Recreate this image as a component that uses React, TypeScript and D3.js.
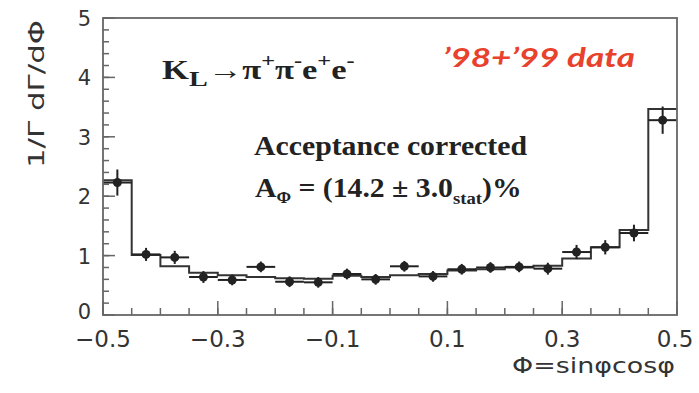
import React from "react";
import * as d3 from "d3";

// Bin edges of the Φ distribution (20 bins of width 0.05)
const binEdgesLo = d3.range(20).map((i) => -0.5 + i * 0.05);
const binWidth = 0.05;

// Acceptance-corrected data points and their statistical errors
const dataValues = [2.23, 1.02, 0.97, 0.64, 0.59, 0.81, 0.56, 0.55, 0.69, 0.6, 0.82, 0.65, 0.77, 0.8, 0.81, 0.78, 1.06, 1.14, 1.38, 3.28];
const dataErrors = [0.22, 0.11, 0.11, 0.1, 0.09, 0.09, 0.09, 0.09, 0.09, 0.09, 0.09, 0.09, 0.09, 0.09, 0.09, 0.1, 0.12, 0.12, 0.14, 0.23];

// Monte Carlo prediction drawn as a step histogram
const mcValues = [2.27, 1.01, 0.82, 0.71, 0.67, 0.64, 0.62, 0.61, 0.66, 0.64, 0.67, 0.69, 0.75, 0.77, 0.8, 0.83, 0.95, 1.14, 1.43, 3.47];

const xTickLabels = [-0.5, -0.3, -0.1, 0.1, 0.3, 0.5];
const yTickLabels = [0, 1, 2, 3, 4, 5];

const W = 699;
const H = 393;
const left = 103;
const right = 677;
const top = 18;
const bottom = 315;

const serif = "'Liberation Serif', 'Times New Roman', serif";
const sans = "'DejaVu Sans', Verdana, sans-serif";

export default function App() {
  const x = d3.scaleLinear().domain([-0.5, 0.5]).range([left, right]);
  const y = d3.scaleLinear().domain([0, 5]).range([bottom, top]);

  // Step path for the MC histogram
  const stepPts: [number, number][] = [];
  binEdgesLo.forEach((lo, i) => {
    stepPts.push([lo, mcValues[i]]);
    stepPts.push([lo + binWidth, mcValues[i]]);
  });
  const stepLine = d3
    .line<[number, number]>()
    .x((d) => x(d[0]))
    .y((d) => y(d[1]));

  const xMinor = d3.range(-0.5, 0.5001, 0.05);
  const xMajor = d3.range(-0.5, 0.5001, 0.2);
  const yMinor = d3.range(0, 5.0001, 0.2);
  const yMajor = d3.range(0, 5.0001, 1);

  const frameColor = "#666";
  const ink = "#222";

  return (
    <svg
      width={W}
      height={H}
      style={{ position: "absolute", left: 0, top: 0, background: "#fff" }}
      fontFamily={sans}
    >
      {/* ticks */}
      {xMinor.map((v, i) => (
        <line key={"xm" + i} x1={x(v)} x2={x(v)} y1={bottom} y2={bottom - 7} stroke={frameColor} strokeWidth={1.5} />
      ))}
      {xMajor.map((v, i) => (
        <line key={"xM" + i} x1={x(v)} x2={x(v)} y1={bottom} y2={bottom - 14} stroke={frameColor} strokeWidth={1.5} />
      ))}
      {yMinor.map((v, i) => (
        <line key={"ym" + i} x1={left} x2={left + 6} y1={y(v)} y2={y(v)} stroke={frameColor} strokeWidth={1.5} />
      ))}
      {yMajor.map((v, i) => (
        <line key={"yM" + i} x1={left} x2={left + 12} y1={y(v)} y2={y(v)} stroke={frameColor} strokeWidth={1.5} />
      ))}

      {/* MC histogram */}
      <path d={stepLine(stepPts) || ""} fill="none" stroke="#333" strokeWidth={2} />

      {/* data points with error bars */}
      {binEdgesLo.map((lo, i) => {
        const cx = x(lo + binWidth / 2);
        const cy = y(dataValues[i]);
        return (
          <g key={"p" + i}>
            <line x1={x(lo)} x2={x(lo + binWidth)} y1={cy} y2={cy} stroke={ink} strokeWidth={2} />
            <line
              x1={cx}
              x2={cx}
              y1={y(dataValues[i] - dataErrors[i])}
              y2={y(dataValues[i] + dataErrors[i])}
              stroke={ink}
              strokeWidth={2}
            />
            <circle cx={cx} cy={cy} r={4.5} fill={ink} />
          </g>
        );
      })}

      {/* frame */}
      <rect x={left} y={top} width={right - left} height={bottom - top} fill="none" stroke={frameColor} strokeWidth={1.8} />

      {/* tick labels */}
      {xTickLabels.map((v, i) => (
        <text key={"xl" + i} x={v === 0.5 ? x(v) - 2 : x(v)} y={347} textAnchor="middle" fontSize={23} fill="#333">
          {v < 0 ? "\u2212" + Math.abs(v).toFixed(1) : v.toFixed(1)}
        </text>
      ))}
      {yTickLabels.map((v, i) => (
        <text key={"yl" + i} x={91} y={v === 0 ? y(v) + 4 : y(v) + 8} textAnchor="end" fontSize={21} fill="#333">
          {v}
        </text>
      ))}

      {/* axis titles */}
      <text x={512} y={373} textLength={163} lengthAdjust="spacingAndGlyphs" fontSize={21} fill="#333">
        Φ=sinφcosφ
      </text>
      <text
        transform="translate(44,94) rotate(-90)"
        textAnchor="middle"
        textLength={148}
        lengthAdjust="spacingAndGlyphs"
        fontSize={21}
        fill="#333"
      >
        1/Γ dΓ/dΦ
      </text>

      {/* decay channel */}
      <g transform="translate(162,79) scale(1.28,1)">
        <text x={0} y={0} fontFamily={serif} fontWeight="bold" fontSize={27} fill={ink}>
          K
          <tspan fontSize={22} dy={7}>L</tspan>
          <tspan dy={-7}>→π</tspan>
          <tspan fontSize={19} dy={-12}>+</tspan>
          <tspan dy={12}>π</tspan>
          <tspan fontSize={19} dy={-12}>-</tspan>
          <tspan dy={12}>e</tspan>
          <tspan fontSize={19} dy={-12}>+</tspan>
          <tspan dy={12}>e</tspan>
          <tspan fontSize={19} dy={-12}>-</tspan>
        </text>
      </g>

      {/* data-set label */}
      <text
        x={443}
        y={67}
        textLength={192}
        lengthAdjust="spacingAndGlyphs"
        fontFamily="Lato, 'Open Sans', sans-serif"
        fontWeight="bold"
        fontStyle="italic"
        fontSize={27}
        fill="#e8412c"
      >
        ’98+’99 data
      </text>

      {/* result */}
      <text
        x={254}
        y={155}
        textLength={273}
        lengthAdjust="spacingAndGlyphs"
        fontFamily={serif}
        fontWeight="bold"
        fontSize={27}
        fill={ink}
      >
        Acceptance corrected
      </text>
      <g transform="translate(255,197) scale(1.1,1)">
        <text x={0} y={0} fontFamily={serif} fontWeight="bold" fontSize={27} fill={ink}>
          A<tspan fontSize={16} dy={6}>Φ</tspan>
          <tspan dy={-6}> = (14.2 ± 3.0</tspan>
          <tspan fontSize={17} dy={7}>stat</tspan>
          <tspan dy={-7}>)%</tspan>
        </text>
      </g>
    </svg>
  );
}
